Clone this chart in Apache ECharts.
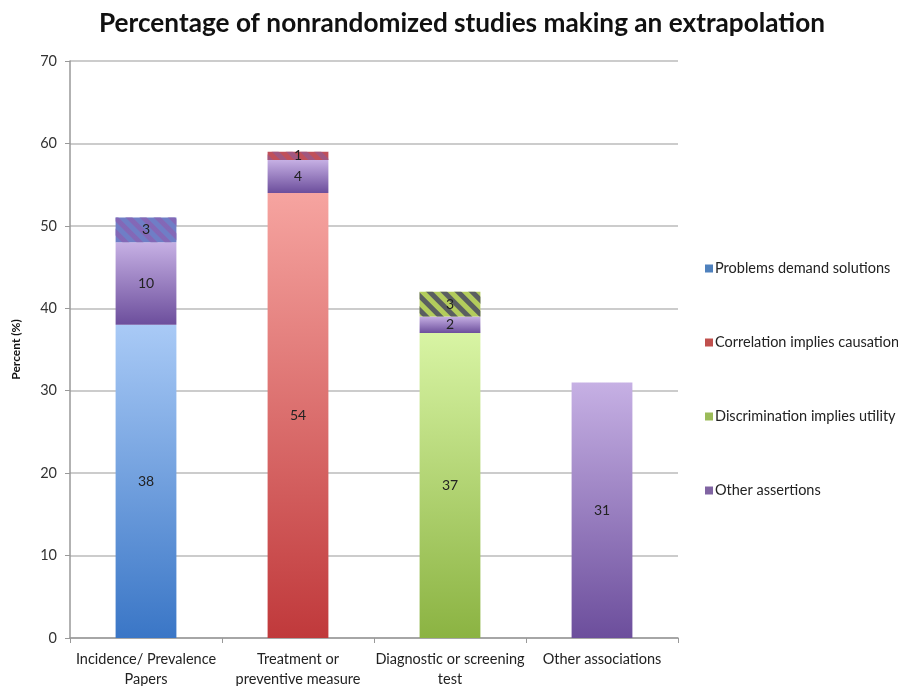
<!DOCTYPE html>
<html>
<head>
<meta charset="utf-8">
<script src="https://cdn.jsdelivr.net/npm/echarts@6/dist/echarts.min.js"></script>
<style>
  html, body { margin: 0; padding: 0; background: #fff; }
  #chart { width: 898px; height: 686px; }
</style>
</head>
<body>
<div id="chart"></div>
<script>
// Study types along the x axis
const categories = [
  'Incidence/ Prevalence\nPapers',
  'Treatment or\npreventive measure',
  'Diagnostic or screening\ntest',
  'Other associations'
];

// Percent of studies per extrapolation type
const problemsDemandSolutions = [38, 0, 0, 0];
const correlationImpliesCausation = [0, 54, 0, 0];
const discriminationImpliesUtility = [0, 0, 37, 0];
const otherAssertions = [10, 4, 2, 31];
// Studies making both the main extrapolation and another assertion
const combinedAssertions = [3, 1, 3, 0];

const yTicks = [0, 10, 20, 30, 40, 50, 60, 70];

const FONT = 'Lato, "Open Sans", sans-serif';

function grad(top, bottom) {
  return new echarts.graphic.LinearGradient(0, 0, 0, 1, [
    { offset: 0, color: top },
    { offset: 1, color: bottom }
  ]);
}

const segLabel = {
  show: true,
  position: 'inside',
  color: '#222',
  fontSize: 14,
  fontFamily: FONT,
  formatter: p => (p.value ? String(p.value) : '')
};

// Hatch styles for the combined segments (per study type)
const hatchStyles = [
  { base: '#6f7ec6', stripe: 'rgba(135,100,180,0.85)' },
  { base: '#c0505a', stripe: 'rgba(150,90,140,0.75)' },
  { base: '#b3cc5c', stripe: 'rgba(80,82,96,0.9)' },
  { base: '#8064a2', stripe: 'rgba(80,82,96,0.9)' }
];

const combinedData = combinedAssertions.map((v, i) => ({
  value: v,
  itemStyle: {
    color: hatchStyles[i].base,
    decal: {
      symbol: 'rect',
      symbolSize: 1,
      dashArrayX: [1, 0],
      dashArrayY: [5, 5],
      rotation: Math.PI / 4,
      color: hatchStyles[i].stripe
    }
  }
}));

const chart = echarts.init(document.getElementById('chart'), null, { renderer: 'canvas' });

chart.setOption({
  animation: false,
  backgroundColor: '#fff',
  title: {
    text: 'Percentage of nonrandomized studies making an extrapolation',
    left: 94,
    top: 6,
    textStyle: { fontFamily: FONT, fontWeight: 'bold', fontSize: 26.2, color: '#111' }
  },
  grid: { left: 70, right: 220, top: 61, bottom: 48, containLabel: false, outerBoundsMode: 'none' },
  legend: {
    orient: 'vertical',
    left: 700,
    top: 256,
    itemGap: 59,
    itemWidth: 8,
    itemHeight: 8,
    icon: 'rect',
    textStyle: { fontFamily: FONT, fontSize: 14.5, color: '#222', padding: [0, 0, 0, -3] },
    data: [
      { name: 'Problems demand solutions', itemStyle: { color: '#4f81bd' } },
      { name: 'Correlation implies causation', itemStyle: { color: '#c0504d' } },
      { name: 'Discrimination implies utility', itemStyle: { color: '#9bbb59' } },
      { name: 'Other assertions', itemStyle: { color: '#8064a2' } }
    ]
  },
  xAxis: {
    type: 'category',
    data: categories,
    axisLine: { lineStyle: { color: '#999', width: 1.5 } },
    axisTick: { show: true, alignWithLabel: false, length: 5, lineStyle: { color: '#999' } },
    axisLabel: { fontFamily: FONT, fontSize: 14.5, color: '#222', lineHeight: 20, margin: 11, interval: 0 }
  },
  yAxis: {
    type: 'value',
    min: yTicks[0],
    max: yTicks[yTicks.length - 1],
    interval: 10,
    name: 'Percent (%)',
    nameLocation: 'middle',
    nameGap: 48,
    nameTextStyle: { fontFamily: FONT, fontSize: 12, fontWeight: 'bold', color: '#111' },
    axisLine: { show: true, lineStyle: { color: '#999', width: 1.5 } },
    axisTick: { show: true, length: 5, lineStyle: { color: '#999' } },
    axisLabel: { fontFamily: FONT, fontSize: 14.5, color: '#333', margin: 13 },
    splitLine: { lineStyle: { color: '#bbb', width: 1.5 } }
  },
  series: [
    {
      name: 'Problems demand solutions',
      type: 'bar', stack: 'total', barWidth: '40%',
      data: problemsDemandSolutions,
      itemStyle: { color: grad('#a9caf6', '#3a76c6') },
      label: segLabel
    },
    {
      name: 'Correlation implies causation',
      type: 'bar', stack: 'total',
      data: correlationImpliesCausation,
      itemStyle: { color: grad('#f6a4a0', '#c0393b') },
      label: segLabel
    },
    {
      name: 'Discrimination implies utility',
      type: 'bar', stack: 'total',
      data: discriminationImpliesUtility,
      itemStyle: { color: grad('#d8f4a4', '#8bb342') },
      label: segLabel
    },
    {
      name: 'Other assertions',
      type: 'bar', stack: 'total',
      data: otherAssertions,
      itemStyle: { color: grad('#c6b0e4', '#6c4e9c') },
      label: segLabel
    },
    {
      name: 'Combined',
      type: 'bar', stack: 'total',
      data: combinedData,
      label: segLabel
    }
  ]
});
</script>
</body>
</html>
